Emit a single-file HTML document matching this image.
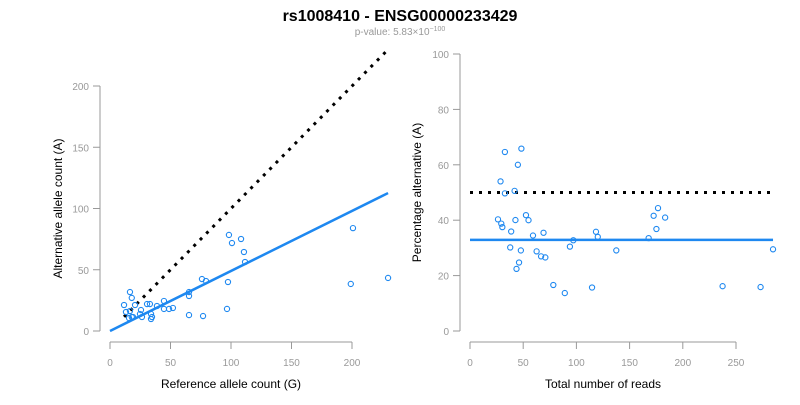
<!DOCTYPE html>
<html><head><meta charset="utf-8"><style>
body{margin:0;background:#fff;width:800px;height:400px;overflow:hidden;font-family:"Liberation Sans",sans-serif}
</style></head><body>
<svg id="c" width="800" height="400" xmlns="http://www.w3.org/2000/svg">
<text x="400" y="21" text-anchor="middle" font-size="16" font-weight="bold">rs1008410 - ENSG00000233429</text>
<text x="400" y="35" text-anchor="middle" font-size="10" fill="#999">p-value: 5.83×10<tspan dy="-4" font-size="7">−100</tspan></text>
</svg>
<script>
const refCounts=[16.5,18,11.6,20.7,13.2,16.5,15.7,18,19,25.6,24.8,26.4,30.6,33,33.9,34.7,33.9,38.8,44.6,44.6,48.8,52,65.3,65.3,65.3,76,79.3,76.9,97.5,96.7,98.3,100.8,108.3,110.7,111.6,200.8,199,229.8];
const altCounts=[31.8,27,21.2,21.2,15.5,16.3,10.6,11.4,11.4,17.1,13.9,11.4,22,22,13.9,11.4,9.8,20.4,24.5,18,18,18.8,31.8,28.6,13,42.4,40.8,12.2,40,18,78.4,71.8,75.1,64.5,56.3,84,38.4,43.3];
const fitSlope=[0.49];
const leftXTicks=[0,50,100,150,200];
const leftYTicks=[0,50,100,150,200];
const rightXTicks=[0,50,100,150,200,250];
const rightYTicks=[0,20,40,60,80,100];

const svg=document.getElementById('c');const NS='http://www.w3.org/2000/svg';
function mk(t,a,p){const e=document.createElementNS(NS,t);for(const k in a)e.setAttribute(k,a[k]);(p||svg).appendChild(e);return e;}
const lx=v=>110+v*1.21, ly=v=>331-v*1.225;
const rx=v=>470+v*1.064, ry=v=>331-v*2.77;

function axes(g,xs,ys,xt,yt,xlab,ylab,ax,ay,labX){
 mk('line',{x1:xs(xt[0]),x2:xs(xt[xt.length-1]),y1:ay,y2:ay,stroke:'#999'},g);
 xt.forEach(t=>{mk('line',{x1:xs(t),x2:xs(t),y1:ay,y2:ay+7,stroke:'#999'},g);
  const tx=mk('text',{x:xs(t),y:ay+24,'text-anchor':'middle','font-size':10,fill:'#999'},g);tx.textContent=t;
  
  });
 mk('line',{x1:ax,x2:ax,y1:ys(yt[0]),y2:ys(yt[yt.length-1]),stroke:'#999'},g);
 yt.forEach(t=>{mk('line',{x1:ax,x2:ax-7,y1:ys(t),y2:ys(t),stroke:'#999'},g);
  const tx=mk('text',{x:ax-11,y:ys(t)+4,'text-anchor':'end','font-size':10,fill:'#999'},g);tx.textContent=t;
  
  });
 const xl=mk('text',{x:(xs(xt[0])+xs(xt[xt.length-1]))/2,y:388,'text-anchor':'middle','font-size':12},g);xl.textContent=xlab;
 
 
 const cy=(ys(yt[0])+ys(yt[yt.length-1]))/2;
 const yl=mk('text',{x:labX,y:cy,'text-anchor':'middle','font-size':12,transform:`rotate(-90 ${labX} ${cy})`},g);yl.textContent=ylab;
 
 
}
const gl=mk('g',{});


axes(gl,lx,ly,leftXTicks,leftYTicks,'Reference allele count (G)','Alternative allele count (A)',100,342,62);
const minR=Math.min(...refCounts),maxR=Math.max(...refCounts);
const d1=mk('line',{x1:lx(minR),y1:ly(minR),x2:lx(maxR),y2:ly(maxR),stroke:'#000','stroke-width':3,'stroke-dasharray':'3,6'},gl);


refCounts.forEach((r,i)=>{const c=mk('circle',{cx:lx(r),cy:ly(altCounts[i]),r:2.6,fill:'none',stroke:'#1e88f0','stroke-width':1.1},gl);
 
 });
const f1=mk('line',{x1:lx(0),y1:ly(0),x2:lx(maxR),y2:ly(maxR*fitSlope[0]),stroke:'#1e88f0','stroke-width':2.5},gl);



const gr=mk('g',{});


axes(gr,rx,ry,rightXTicks,rightYTicks,'Total number of reads','Percentage alternative (A)',460,342,421);
const totals=refCounts.map((r,i)=>r+altCounts[i]);
const pcts=totals.map((t,i)=>altCounts[i]/t*100);
const maxT=Math.max(...totals);
const d2=mk('line',{x1:rx(0),y1:ry(50),x2:rx(maxT),y2:ry(50),stroke:'#000','stroke-width':3,'stroke-dasharray':'3,6'},gr);


const meanP=fitSlope[0]/(1+fitSlope[0])*100;
const f2=mk('line',{x1:rx(0),y1:ry(meanP),x2:rx(maxT),y2:ry(meanP),stroke:'#1e88f0','stroke-width':2.5},gr);


totals.forEach((t,i)=>{const c=mk('circle',{cx:rx(t),cy:ry(pcts[i]),r:2.6,fill:'none',stroke:'#1e88f0','stroke-width':1.1},gr);
 
 });
</script>
</body></html>
